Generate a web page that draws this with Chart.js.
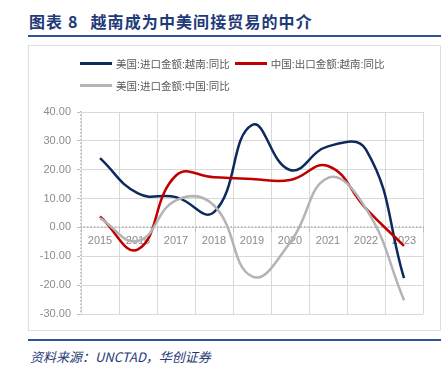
<!DOCTYPE html>
<html>
<head>
<meta charset="utf-8">
<script src="https://cdn.jsdelivr.net/npm/chart.js@4/dist/chart.umd.min.js"></script>
<style>
    html, body { margin: 0; padding: 0; background: #fff; }
    body { width: 444px; height: 374px; position: relative; overflow: hidden; font-family: "Liberation Sans", "Noto Sans CJK SC", sans-serif; }
    #title { position: absolute; left: 29px; top: 9px; font: bold 16px "Noto Sans CJK SC", serif; color: #1f3a78; letter-spacing: 1.1px; white-space: nowrap; }
    #title .gap { display: inline-block; width: 12px; }
    #titleRule { position: absolute; left: 28px; top: 35px; width: 413px; height: 2px; background: #2f5597; }
    #box { position: absolute; left: 28px; top: 45px; width: 411px; height: 284px; border: 1px solid #dedede; }
    #chartWrap { position: absolute; left: 28px; top: 45px; width: 413px; height: 286px; }
    #legend { position: absolute; left: 80px; top: 55px; width: 340px; font: 10.5px "Liberation Sans", "Noto Sans CJK SC", sans-serif; color: #595959; }
    .item { display: inline-flex; align-items: center; height: 17px; margin-right: 5px; margin-bottom: 5px; white-space: nowrap; }
    .swatch { display: inline-block; width: 32px; height: 3px; margin-right: 4px; }
    #srcRule { position: absolute; left: 28px; top: 339px; width: 413px; height: 2px; background: #2f5597; }
    #source { position: absolute; left: 30px; top: 347px; font: italic 13px "Noto Sans CJK SC", serif; color: #1f3a78; white-space: nowrap; }
</style>
</head>
<body>
<div id="title">图表 8<span class="gap"></span>越南成为中美间接贸易的中介</div>
<div id="titleRule"></div>
<div id="box"></div>
<div id="chartWrap"><canvas id="chart"></canvas></div>
<div id="legend"></div>
<div id="srcRule"></div>
<div id="source">资料来源：UNCTAD，华创证券</div>
<script>
const years = ["2015", "2016", "2017", "2018", "2019", "2020", "2021", "2022", "2023"];
const seriesNames = ["美国:进口金额:越南:同比", "中国:出口金额:越南:同比", "美国:进口金额:中国:同比"];
const usImportVietnam = [24.0, 11.8, 10.5, 5.3, 35.5, 19.9, 28.1, 27.0, -17.6];
const chinaExportVietnam = [3.8, -7.6, 18.0, 17.4, 16.8, 16.4, 21.3, 6.5, -6.4];
const usImportChina = [3.2, -4.7, 9.4, 7.6, -17.0, -5.3, 17.2, 6.5, -25.2];
const seriesColors = ["#0d2a5c", "#c00000", "#b4b4b4"];
const yTicks = [40, 30, 20, 10, 0, -10, -20, -30];

function el(id) {
    return document.getElementById(id);
}

function buildLegend() {
    const legend = el("legend");
    seriesNames.forEach((name, i) => {
        const item = document.createElement("span");
        item.classList.add("item");
        const sw = document.createElement("span");
        sw.classList.add("swatch");
        sw.style.background = seriesColors[i];
        item.appendChild(sw);
        item.appendChild(document.createTextNode(name));
        legend.appendChild(item);
        if (i === 1) legend.appendChild(document.createElement("br"));
    });
}

function makeDataset(label, data, color) {
    return {
        label: label,
        data: data,
        borderColor: color,
        backgroundColor: color,
        borderWidth: 2.5,
        pointRadius: 0,
        tension: 0.45,
        fill: false
    };
}

buildLegend();

new Chart(el("chart"), {
    type: "line",
    data: {
        labels: years,
        datasets: [
            makeDataset(seriesNames[2], usImportChina, seriesColors[2]),
            makeDataset(seriesNames[1], chinaExportVietnam, seriesColors[1]),
            makeDataset(seriesNames[0], usImportVietnam, seriesColors[0])
        ]
    },
    options: {
        responsive: true,
        maintainAspectRatio: false,
        animation: false,
        layout: { padding: { top: 67, right: 18, bottom: 17, left: 0 } },
        plugins: {
            legend: { display: false },
            tooltip: { enabled: false }
        },
        scales: {
            x: {
                position: { y: 0 },
                offset: true,
                grid: {
                    offset: true,
                    color: "#d9d9d9",
                    lineWidth: 1,
                    tickLength: 4,
                    tickColor: "#bfbfbf",
                    drawTicks: true
                },
                border: { display: true, color: "#bfbfbf", width: 2, dash: [] },
                ticks: {
                    color: "#8c8c8c",
                    font: { family: "Liberation Sans", size: 11 },
                    padding: 3,
                    maxRotation: 0
                }
            },
            y: {
                min: -30,
                max: 40,
                afterFit: scale => { scale.width = 53; },
                afterBuildTicks: scale => { scale.ticks = yTicks.map(v => ({ value: v })); },
                grid: {
                    color: "#d9d9d9",
                    lineWidth: 1,
                    tickLength: 4,
                    tickColor: "#bfbfbf"
                },
                border: { display: true, color: "#bfbfbf", width: 1.5 },
                ticks: {
                    color: "#8c8c8c",
                    font: { family: "Liberation Sans", size: 11 },
                    padding: 6,
                    callback: value => value.toFixed(2)
                }
            }
        }
    },
    plugins: [{
        // dotted gridlines like the source figure
        id: "dottedGrid",
        beforeDraw: chart => {
            chart.ctx.setLineDash([1.5, 2]);
        }
    }]
});
</script>
</body>
</html>
